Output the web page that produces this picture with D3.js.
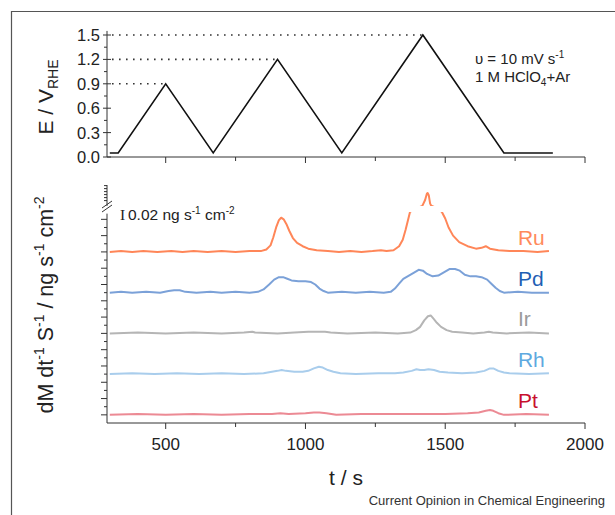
<!DOCTYPE html>
<html>
<head>
<meta charset="utf-8">
<script src="https://cdn.jsdelivr.net/npm/d3@7"></script>
<style>
  body { margin: 0; background: #fff; }
  svg text { font-family: "Liberation Sans", Arial, sans-serif; fill: #222; }
</style>
</head>
<body>
<svg id="canvas" width="615" height="515"></svg>
<script>
// ---- data ----
const timeTicks = [500, 1000, 1500, 2000];
const timeMinorTicks = [750, 1250, 1750];
const potentialTicks = [0.0, 0.3, 0.6, 0.9, 1.2, 1.5];

// potential programme (upper panel)
const potentialTimes = [300, 330, 500, 670, 900, 1130, 1420, 1710, 1885];
const potentialValues = [0.05, 0.05, 0.9, 0.05, 1.2, 0.05, 1.5, 0.05, 0.05];
const vertexTimes = [500, 900, 1420];
const vertexLimits = [0.9, 1.2, 1.5];

// dissolution signals [t, ng s-1 cm-2] (lower panel), stacked by offsets
const metals = ["Ru", "Pd", "Ir", "Rh", "Pt"];
const offsets = [0.20, 0.15, 0.10, 0.05, 0.00];
const lineColors = ["#ff8658", "#7ba1d8", "#b5b5b5", "#a9cdec", "#ec8a94"];
const labelColors = ["#ff8a5c", "#1f5fb4", "#9a9a9a", "#5ea9e0", "#c8102e"];

const ruSignal = [[300,0.000],[340,0.001],[380,0.000],[420,0.001],[470,0.000],[520,0.001],[560,0.000],[600,0.001],[650,0.000],[700,0.001],[750,0.000],[800,0.001],[840,0.001],[860,0.003],[875,0.008],[885,0.018],[895,0.030],[905,0.039],[913,0.042],[922,0.040],[932,0.034],[942,0.026],[955,0.017],[970,0.011],[990,0.007],[1010,0.004],[1040,0.002],[1080,0.001],[1120,0.000],[1160,0.001],[1200,0.000],[1240,0.001],[1270,0.002],[1290,0.001],[1315,0.002],[1335,0.007],[1348,0.015],[1358,0.027],[1366,0.038],[1374,0.049],[1395,0.055],[1418,0.062],[1428,0.16],[1434,0.26],[1437,0.277],[1441,0.24],[1446,0.10],[1450,0.065],[1470,0.056],[1488,0.049],[1500,0.041],[1512,0.030],[1528,0.020],[1550,0.012],[1580,0.007],[1610,0.004],[1630,0.005],[1645,0.007],[1660,0.004],[1690,0.002],[1730,0.001],[1780,0.001],[1830,0.000],[1871,0.001]];
const pdSignal = [[300,0.000],[340,0.001],[380,0.000],[430,0.001],[480,0.000],[510,0.002],[530,0.003],[550,0.003],[570,0.001],[610,0.000],[660,0.001],[700,0.000],[750,0.001],[800,0.000],[830,0.001],[850,0.004],[870,0.010],[888,0.016],[905,0.019],[920,0.019],[935,0.017],[950,0.015],[975,0.014],[1000,0.014],[1020,0.013],[1035,0.010],[1050,0.005],[1065,0.002],[1080,0.000],[1130,0.001],[1180,0.000],[1230,0.001],[1280,0.000],[1305,0.001],[1320,0.005],[1335,0.011],[1350,0.017],[1370,0.021],[1390,0.025],[1405,0.028],[1420,0.027],[1435,0.023],[1455,0.020],[1475,0.021],[1495,0.025],[1515,0.029],[1535,0.029],[1552,0.027],[1570,0.022],[1590,0.020],[1610,0.020],[1630,0.019],[1650,0.016],[1665,0.011],[1680,0.006],[1695,0.002],[1710,0.000],[1760,0.001],[1810,0.000],[1871,0.000]];
const irSignal = [[300,0.000],[400,0.001],[500,0.000],[600,0.001],[700,0.000],[780,0.001],[810,0.002],[820,0.001],[900,0.000],[960,0.001],[1010,0.002],[1040,0.002],[1070,0.002],[1090,0.001],[1150,0.000],[1250,0.001],[1330,0.000],[1375,0.001],[1395,0.004],[1410,0.008],[1425,0.016],[1438,0.021],[1448,0.022],[1458,0.018],[1470,0.013],[1485,0.008],[1505,0.004],[1525,0.002],[1560,0.001],[1600,0.000],[1640,0.001],[1656,0.002],[1670,0.001],[1720,0.000],[1800,0.001],[1871,0.000]];
const rhSignal = [[300,0.000],[380,0.001],[460,0.000],[540,0.001],[620,0.000],[700,0.001],[780,0.000],[850,0.001],[880,0.003],[900,0.004],[915,0.005],[930,0.004],[960,0.003],[990,0.003],[1010,0.004],[1030,0.007],[1048,0.009],[1062,0.008],[1080,0.005],[1100,0.003],[1125,0.001],[1180,0.000],[1260,0.001],[1320,0.001],[1350,0.002],[1380,0.004],[1397,0.006],[1410,0.005],[1425,0.005],[1440,0.006],[1460,0.005],[1480,0.003],[1510,0.002],[1560,0.001],[1610,0.002],[1640,0.004],[1660,0.007],[1672,0.007],[1690,0.004],[1710,0.002],[1730,0.001],[1800,0.000],[1871,0.001]];
const ptSignal = [[300,0.000],[400,0.001],[500,0.000],[600,0.001],[700,0.000],[800,0.001],[880,0.001],[910,0.002],[940,0.001],[1000,0.002],[1030,0.003],[1050,0.003],[1075,0.002],[1110,0.000],[1200,0.001],[1300,0.001],[1400,0.001],[1500,0.001],[1580,0.002],[1620,0.003],[1645,0.005],[1660,0.006],[1672,0.005],[1690,0.002],[1710,0.000],[1790,0.001],[1871,0.000]];
const signals = [ruSignal, pdSignal, irSignal, rhSignal, ptSignal];

const svg = d3.select("#canvas");

// figure frame (only top / left edges visible)
svg.append("path")
  .attr("d", "M11.5,515V11.5H615")
  .attr("fill", "none")
  .attr("stroke", "#555")
  .attr("stroke-width", 1.2);

// ---- scales ----
const x = d3.scaleLinear().domain([290, 2000]).range([107, 585]);
const yE = d3.scaleLinear().domain([0, 1.5]).range([157, 35]);
// broken axis: linear below the break, compressed above it
const yM = d3.scaleLinear().domain([-0.01, 0.249, 0.26, 0.61]).range([423, 212, 206, 185]);

const axisColor = "#333";

let tickLine = (g, x1, y1, x2, y2) => {
  g.append("line")
    .attr("x1", x1).attr("y1", y1)
    .attr("x2", x2).attr("y2", y2)
    .attr("stroke", axisColor)
    .attr("stroke-width", 1);
};

// ---- upper panel ----
const upper = svg.append("g");

tickLine(upper, x(290), yE(1.55), x(290), yE(0));
tickLine(upper, x(290), yE(0), x(2000), yE(0));

potentialTicks.forEach(v => {
  tickLine(upper, x(290) - 4, yE(v), x(290) + 4, yE(v));
  upper.append("text")
    .attr("x", x(290) - 7)
    .attr("y", yE(v))
    .attr("dy", "0.36em")
    .attr("text-anchor", "end")
    .attr("font-size", 16.5)
    .text(v.toFixed(1));
});
potentialTicks.slice(0, -1).forEach(v => {
  tickLine(upper, x(290) - 3, yE(v + 0.15), x(290), yE(v + 0.15));
});
timeTicks.forEach(t => tickLine(upper, x(t), yE(0), x(t), yE(0) + 6));
timeMinorTicks.forEach(t => tickLine(upper, x(t), yE(0), x(t), yE(0) + 4));

// dotted guides to the upper vertex potentials
vertexTimes.forEach((t, i) => {
  upper.append("line")
    .attr("x1", x(290) + 5).attr("x2", x(t))
    .attr("y1", yE(vertexLimits[i])).attr("y2", yE(vertexLimits[i]))
    .attr("stroke", "#333")
    .attr("stroke-width", 1.6)
    .attr("stroke-dasharray", "1.6,5.4");
});

const eLine = d3.line()
  .x(i => x(potentialTimes[i]))
  .y(i => yE(potentialValues[i]));

upper.append("path")
  .attr("d", eLine(d3.range(potentialTimes.length)))
  .attr("fill", "none")
  .attr("stroke", "#111")
  .attr("stroke-width", 1.6);

const eTitle = upper.append("text")
  .attr("transform", "translate(53, 97) rotate(-90)")
  .attr("text-anchor", "middle")
  .attr("font-size", 21);
eTitle.append("tspan").text("E / V");
eTitle.append("tspan").attr("font-size", 14).attr("dy", 5).text("RHE");

const note1 = upper.append("text").attr("x", 475).attr("y", 64).attr("font-size", 15);
note1.append("tspan").text("\u03c5 = 10 mV s");
note1.append("tspan").attr("font-size", 10).attr("dy", -6).text("-1");
const note2 = upper.append("text").attr("x", 475).attr("y", 82).attr("font-size", 15);
note2.append("tspan").text("1 M HClO");
note2.append("tspan").attr("font-size", 10).attr("dy", 4).text("4");
note2.append("tspan").attr("dy", -4).text("+Ar");

// ---- lower panel ----
const lower = svg.append("g");

tickLine(lower, x(290), yM(0.61), x(290), yM(-0.01));
tickLine(lower, x(290), yM(-0.01), x(2000), yM(-0.01));

d3.range(0, 25).forEach(k => {
  const len = k % 2 === 0 ? 6 : 3;
  tickLine(lower, x(290) - len, yM(k / 100), x(290), yM(k / 100));
});
d3.range(7, 13).forEach(k => {
  tickLine(lower, x(290) - 3, yM(k / 20), x(290), yM(k / 20));
});

// axis break mark
lower.append("rect")
  .attr("x", x(290) - 2).attr("y", yM(0.262)).attr("width", 4)
  .attr("height", yM(0.247) - yM(0.262))
  .attr("fill", "#fff");
[0, 4].forEach(d => {
  tickLine(lower, x(290) - 5, 208 + d, x(290) + 5, 201 + d);
});

timeTicks.forEach(t => {
  tickLine(lower, x(t), yM(-0.01), x(t), yM(-0.01) + 6);
  lower.append("text")
    .attr("x", x(t))
    .attr("y", yM(-0.01) + 27)
    .attr("text-anchor", "middle")
    .attr("font-size", 17)
    .text(t);
});
timeMinorTicks.forEach(t => tickLine(lower, x(t), yM(-0.01), x(t), yM(-0.01) + 4));

// hide the band of the break
const clip = svg.append("defs").append("clipPath").attr("id", "brk");
clip.append("rect").attr("x", 100).attr("y", 150).attr("width", 500).attr("height", yM(0.26) - 150);
clip.append("rect").attr("x", 100).attr("y", yM(0.249)).attr("width", 500).attr("height", 440 - yM(0.249));

const mLine = d3.line().x(d => x(d[0])).y(d => yM(d[1]));

signals.forEach((s, i) => {
  lower.append("path")
    .attr("d", mLine(s.map(d => [d[0], d[1] + offsets[i]])))
    .attr("fill", "none")
    .attr("stroke", lineColors[i])
    .attr("stroke-width", 2)
    .attr("stroke-linejoin", "round")
    .attr("clip-path", "url(#brk)");

  lower.append("text")
    .attr("x", x(1760))
    .attr("y", yM(offsets[i]) - 7)
    .attr("font-size", 21)
    .style("fill", labelColors[i])
    .text(metals[i]);
});

// scale bar
lower.append("text")
  .attr("x", 120).attr("y", 220)
  .attr("font-size", 15.5)
  .style("font-family", "'Liberation Serif', serif")
  .text("I");
const scaleText = lower.append("text").attr("x", 128).attr("y", 220).attr("font-size", 15.5);
scaleText.append("tspan").text("0.02 ng s");
scaleText.append("tspan").attr("font-size", 10).attr("dy", -6).text("-1");
scaleText.append("tspan").attr("dy", 6).text(" cm");
scaleText.append("tspan").attr("font-size", 10).attr("dy", -6).text("-2");

const mTitle = lower.append("text")
  .attr("transform", "translate(53, 305) rotate(-90)")
  .attr("text-anchor", "middle")
  .attr("font-size", 21.5);
mTitle.append("tspan").text("dM dt");
mTitle.append("tspan").attr("font-size", 14).attr("dy", -9).text("-1");
mTitle.append("tspan").attr("dy", 9).text(" S");
mTitle.append("tspan").attr("font-size", 14).attr("dy", -9).text("-1");
mTitle.append("tspan").attr("dy", 9).text(" / ng s");
mTitle.append("tspan").attr("font-size", 14).attr("dy", -9).text("-1");
mTitle.append("tspan").attr("dy", 9).text(" cm");
mTitle.append("tspan").attr("font-size", 14).attr("dy", -9).text("-2");

lower.append("text")
  .attr("x", (x.range()[0] + x.range()[1]) / 2)
  .attr("y", 485)
  .attr("text-anchor", "middle")
  .attr("font-size", 21)
  .text("t / s");

svg.append("text")
  .attr("x", 605).attr("y", 505)
  .attr("text-anchor", "end")
  .attr("font-size", 13)
  .style("fill", "#333")
  .text("Current Opinion in Chemical Engineering");
</script>
</body>
</html>
